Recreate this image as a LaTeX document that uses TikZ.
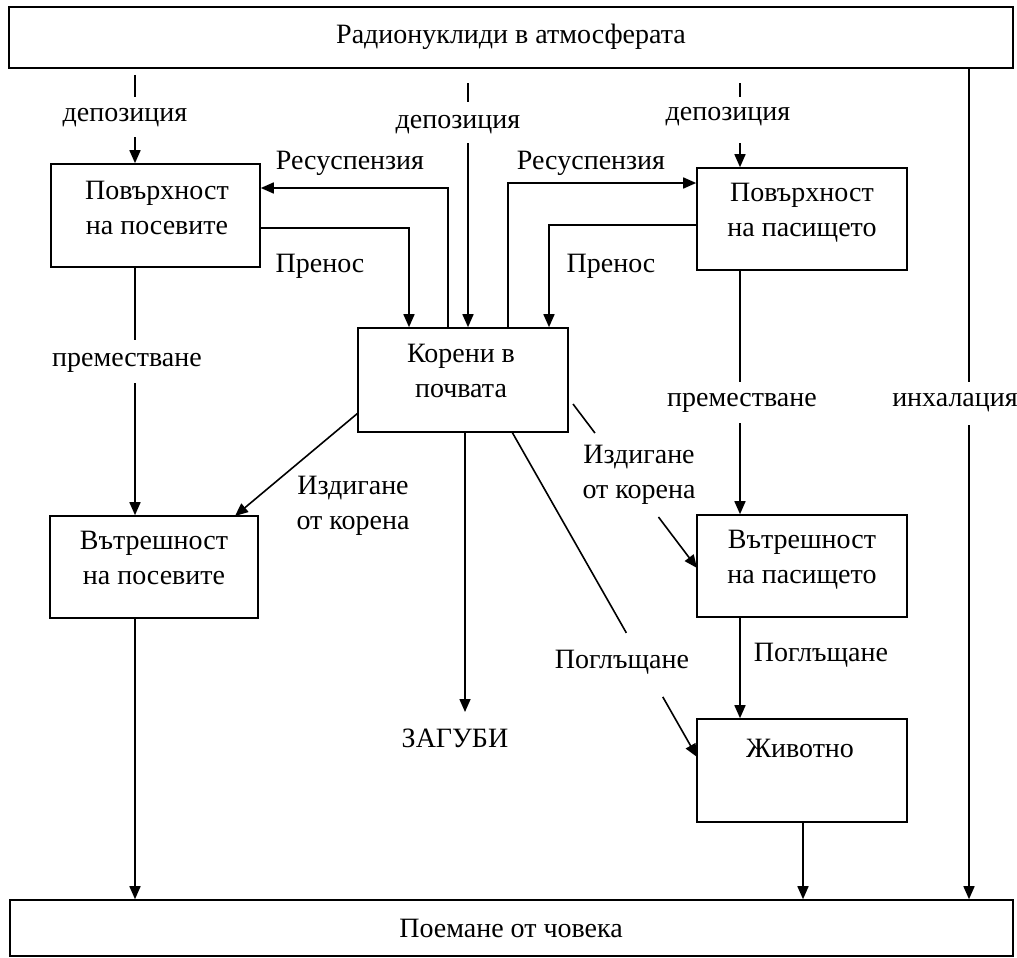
\documentclass[tikz,border=0pt]{standalone}
\usepackage{fontspec}
\setmainfont{Liberation Serif}
\usetikzlibrary{arrows.meta,calc}
\newcommand\diafs{\fontsize{28}{35}\selectfont}
\begin{document}
\begin{tikzpicture}[x=1pt,y=-1pt,
  box/.style={draw, line width=1.6pt, rectangle, inner sep=0pt},
  txt/.style={font=\diafs, align=center, inner sep=1pt},
  ln/.style={line width=1.6pt},
  arr/.style={ln, -{Triangle[length=13pt,width=11pt]}}]
\useasboundingbox (0,0) rectangle (1017,958);
% boxes
\node[box, minimum width=1004pt, minimum height=61pt] (top) at (511,37.5) {};
\node[box, minimum width=209pt, minimum height=103pt] (pov) at (155.5,215.5) {};
\node[box, minimum width=210pt, minimum height=102pt] (pas) at (802,219) {};
\node[box, minimum width=210pt, minimum height=104pt] (kor) at (463,380) {};
\node[box, minimum width=208pt, minimum height=102pt] (vpos) at (154,567) {};
\node[box, minimum width=210pt, minimum height=102pt] (vpas) at (802,566) {};
\node[box, minimum width=210pt, minimum height=103pt] (ziv) at (802,770.5) {};
\node[box, minimum width=1003pt, minimum height=56pt] (bot) at (511.5,928) {};
% box texts
\node[txt] (topt) at (511,37) {Радионуклиди в атмосферата};
\node[txt] (povt) at (157,207.5) {Повърхност\\на посевите};
\node[txt] (past) at (802,213) {Повърхност\\на пасището};
\node[txt] (kort) at (461,370.5) {Корени в\\почвата};
\node[txt] (vpost) at (154,558) {Вътрешност\\на посевите};
\node[txt] (vpast) at (802,560) {Вътрешност\\на пасището};
\node[txt] (zivt) at (800,748) {Животно};
\node[txt] (bott) at (511,928) {Поемане от човека};
% labels
\node[txt] (dep1) at (125,118) {депозиция};
\node[txt] (dep2) at (458,125) {депозиция};
\node[txt] (dep3) at (728,117) {депозиция};
\node[txt] (res1) at (350,163) {Ресуспензия};
\node[txt] (pren1) at (320,266) {Пренос};
\node[txt] (res2) at (591,163) {Ресуспензия};
\node[txt] (pren2) at (611,266) {Пренос};
\node[txt] (prem1) at (127,363) {преместване};
\node[txt] (prem2) at (742,403) {преместване};
\node[txt] (inh) at (955,403) {инхалация};
\node[txt] (izd1) at (353,506) {Издигане\\от корена};
\node[txt] (izd2) at (639,475) {Издигане\\от корена};
\node[txt] (zag) at (455,738) {ЗАГУБИ};
\node[txt] (pog1) at (622,662) {Поглъщане};
\node[txt] (pog2) at (821,655) {Поглъщане};
% deposition connectors
\coordinate (d1a) at (135,75); \coordinate (d1b) at (135,97); \coordinate (d1c) at (135,137);
\draw[ln] (d1a) -- (d1b);
\draw[arr] (d1c) -- (d1c |- pov.north);
\coordinate (d2a) at (468,83); \coordinate (d2b) at (468,102); \coordinate (d2c) at (468,143);
\draw[ln] (d2a) -- (d2b);
\draw[arr] (d2c) -- (d2c |- kor.north);
\coordinate (d3a) at (740,83); \coordinate (d3b) at (740,97); \coordinate (d3c) at (740,143);
\draw[ln] (d3a) -- (d3b);
\draw[arr] (d3c) -- (d3c |- pas.north);
% inhalation
\coordinate (i1) at (969,382); \coordinate (i2) at (969,425);
\draw[ln] (top.south -| i1) -- (i1);
\draw[arr] (i2) -- (i2 |- bot.north);
% resuspension / transfer
\coordinate (r1) at (448,188);
\draw[arr] (kor.north -| r1) -- (r1) -- (r1 -| pov.east);
\coordinate (p1) at (409,228);
\draw[arr] (pov.east |- p1) -- (p1) -- (p1 |- kor.north);
\coordinate (r2) at (508,183);
\draw[arr] (kor.north -| r2) -- (r2) -- (r2 -| pas.west);
\coordinate (p2) at (549,225);
\draw[arr] (pas.west |- p2) -- (p2) -- (p2 |- kor.north);
% translocation
\coordinate (m1a) at (135,340); \coordinate (m1b) at (135,383);
\draw[ln] (pov.south -| m1a) -- (m1a);
\draw[arr] (m1b) -- (m1b |- vpos.north);
\coordinate (m2a) at (740,382); \coordinate (m2b) at (740,423);
\draw[ln] (pas.south -| m2a) -- (m2a);
\draw[arr] (m2b) -- (m2b |- vpas.north);
% root uptake
\coordinate (k1) at (358,413); \coordinate (k1t) at (235,516);
\draw[arr] (k1) -- (k1t);
\coordinate (k2) at (573,404); \coordinate (k2t) at (697,568);
\draw[ln] (k2) -- ($(k2)!0.177!(k2t)$);
\draw[arr] ($(k2)!0.689!(k2t)$) -- (k2t);
% losses
\coordinate (zt) at (465,712);
\draw[arr] (kor.south -| zt) -- (zt);
% ingestion
\coordinate (g1) at (512,432); \coordinate (g1t) at (697,757);
\draw[ln] (g1) -- ($(g1)!0.618!(g1t)$);
\draw[arr] ($(g1)!0.815!(g1t)$) -- (g1t);
\draw[arr] (vpas.south -| 740,0) -- (ziv.north -| 740,0);
% to human
\draw[arr] (vpos.south -| 135,0) -- (bot.north -| 135,0);
\draw[arr] (ziv.south -| 803,0) -- (bot.north -| 803,0);
\end{tikzpicture}
\end{document}
